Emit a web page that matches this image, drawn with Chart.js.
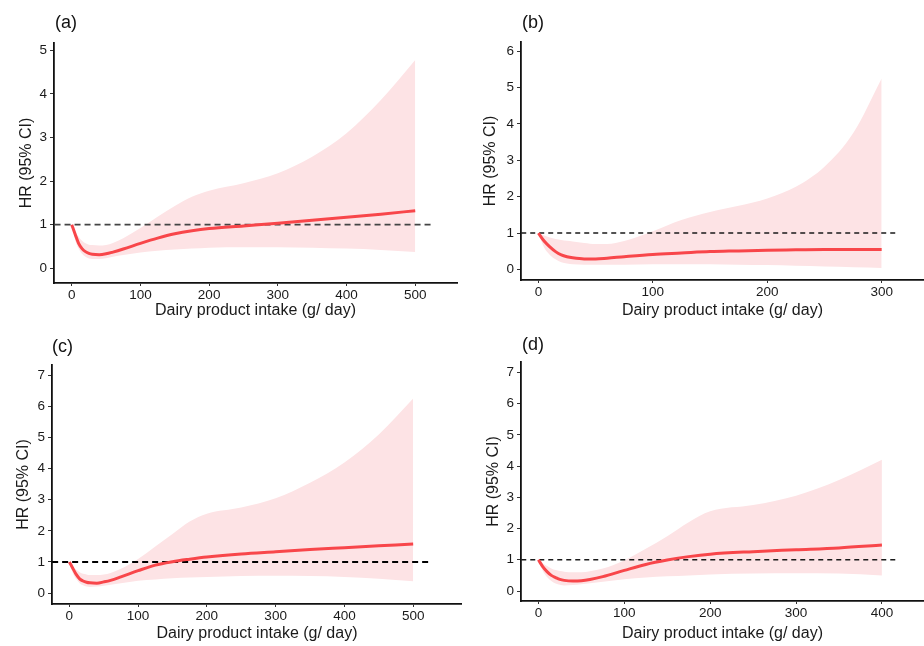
<!DOCTYPE html>
<html>
<head>
<meta charset="utf-8">
<script src="https://cdn.jsdelivr.net/npm/chart.js@4.4.1/dist/chart.umd.min.js"></script>
<style>
  body { margin: 0; background: #fff; }
  #wrap { position: relative; width: 924px; height: 646px; overflow: hidden; }
  .panel { position: absolute; width: 462px; height: 323px; }
  .tag { position: absolute; font-family: 'Liberation Sans', Arial, sans-serif; font-size: 18px; color: #111; line-height: 18px; }
</style>
</head>
<body>
<div id="wrap">
  <div class="panel" style="left:0;top:0"><canvas id="chartA" width="462" height="323"></canvas></div>
  <div class="panel" style="left:462px;top:0"><canvas id="chartB" width="462" height="323"></canvas></div>
  <div class="panel" style="left:0;top:323px"><canvas id="chartC" width="462" height="323"></canvas></div>
  <div class="panel" style="left:462px;top:323px"><canvas id="chartD" width="462" height="323"></canvas></div>
  <div class="tag" style="left:55px;top:13px">(a)</div>
  <div class="tag" style="left:522px;top:13px">(b)</div>
  <div class="tag" style="left:52px;top:337px">(c)</div>
  <div class="tag" style="left:522px;top:335px">(d)</div>
</div>
<script>
// ---- datos ----
// (a)
const xA = [0, 5, 10, 15, 20, 25, 30, 40, 50, 60, 75, 100, 125, 150, 175, 200, 250, 300, 350, 400, 450, 500];
const hrA = [1.0, 0.78, 0.57, 0.45, 0.38, 0.34, 0.32, 0.31, 0.33, 0.37, 0.44, 0.57, 0.69, 0.79, 0.86, 0.91, 0.97, 1.03, 1.10, 1.17, 1.24, 1.32];
const upA = [1.0, 0.85, 0.72, 0.63, 0.57, 0.54, 0.53, 0.52, 0.53, 0.58, 0.69, 0.92, 1.18, 1.43, 1.64, 1.78, 1.95, 2.18, 2.56, 3.10, 3.86, 4.78];
const loA = [1.0, 0.65, 0.45, 0.33, 0.26, 0.22, 0.21, 0.21, 0.23, 0.26, 0.30, 0.36, 0.40, 0.43, 0.45, 0.47, 0.48, 0.48, 0.47, 0.45, 0.42, 0.37];
const xTicksA = [0, 100, 200, 300, 400, 500];
const yTicksA = [0, 1, 2, 3, 4, 5];

// (b)
const xB = [0, 5, 10, 15, 20, 25, 30, 40, 50, 60, 75, 100, 125, 150, 175, 200, 225, 250, 275, 300];
const hrB = [1.0, 0.78, 0.62, 0.49, 0.40, 0.35, 0.32, 0.29, 0.29, 0.31, 0.35, 0.41, 0.45, 0.49, 0.51, 0.53, 0.54, 0.55, 0.55, 0.55];
const upB = [1.0, 0.93, 0.88, 0.84, 0.81, 0.79, 0.77, 0.73, 0.70, 0.70, 0.78, 1.05, 1.36, 1.58, 1.75, 1.95, 2.27, 2.82, 3.74, 5.25];
const loB = [1.0, 0.60, 0.40, 0.28, 0.20, 0.16, 0.14, 0.13, 0.13, 0.13, 0.13, 0.14, 0.14, 0.14, 0.13, 0.12, 0.10, 0.08, 0.06, 0.04];
const xTicksB = [0, 100, 200, 300];
const yTicksB = [0, 1, 2, 3, 4, 5, 6];

// (c)
const xC = [0, 5, 10, 15, 20, 25, 30, 40, 50, 60, 75, 100, 125, 150, 175, 200, 250, 300, 350, 400, 450, 500];
const hrC = [1.0, 0.80, 0.60, 0.46, 0.39, 0.35, 0.33, 0.32, 0.36, 0.41, 0.52, 0.72, 0.90, 1.01, 1.09, 1.16, 1.26, 1.33, 1.40, 1.46, 1.52, 1.58];
const upC = [1.0, 0.85, 0.75, 0.67, 0.62, 0.60, 0.58, 0.58, 0.60, 0.65, 0.78, 1.10, 1.50, 1.90, 2.30, 2.55, 2.75, 3.05, 3.55, 4.20, 5.10, 6.25];
const loC = [1.0, 0.65, 0.45, 0.32, 0.25, 0.21, 0.20, 0.21, 0.24, 0.27, 0.32, 0.40, 0.44, 0.48, 0.50, 0.52, 0.55, 0.56, 0.55, 0.52, 0.46, 0.38];
const xTicksC = [0, 100, 200, 300, 400, 500];
const yTicksC = [0, 1, 2, 3, 4, 5, 6, 7];

// (d)
const xD = [0, 5, 10, 15, 20, 25, 30, 40, 50, 60, 75, 100, 125, 150, 175, 200, 250, 300, 350, 400];
const hrD = [1.0, 0.78, 0.62, 0.50, 0.43, 0.37, 0.34, 0.32, 0.33, 0.37, 0.46, 0.66, 0.85, 0.99, 1.10, 1.18, 1.26, 1.32, 1.38, 1.47];
const upD = [1.0, 0.88, 0.80, 0.72, 0.67, 0.64, 0.62, 0.60, 0.60, 0.63, 0.72, 0.98, 1.35, 1.75, 2.20, 2.55, 2.75, 3.05, 3.55, 4.20];
const loD = [1.0, 0.65, 0.45, 0.32, 0.24, 0.20, 0.18, 0.19, 0.22, 0.25, 0.30, 0.38, 0.43, 0.47, 0.50, 0.53, 0.56, 0.57, 0.56, 0.50];
const xTicksD = [0, 100, 200, 300, 400];
const yTicksD = [0, 1, 2, 3, 4, 5, 6, 7];

const xTitle = 'Dairy product intake (g/ day)';
const yTitle = 'HR (95% CI)';

Chart.defaults.font.family = "'Liberation Sans', Arial, sans-serif";
Chart.defaults.color = '#1a1a1a';

const pts = (xs, ys) => xs.map((x, i) => ({ x: x, y: ys[i] }));

function spline(id, cfg) {
    const ctx = document.getElementById(id);
    new Chart(ctx, {
        type: 'line',
        data: {
            datasets: [{
                data: pts(cfg.x, cfg.hr),
                borderColor: '#F8464A',
                borderWidth: 3,
                pointRadius: 0,
                cubicInterpolationMode: 'monotone',
                fill: false
            }, {
                data: [{ x: cfg.ref[0], y: 1 }, { x: cfg.ref[1], y: 1 }],
                borderColor: cfg.refColor,
                borderWidth: cfg.refWidth,
                borderDash: cfg.refDash,
                pointRadius: 0,
                fill: false
            }, {
                data: pts(cfg.x, cfg.up),
                borderWidth: 0,
                borderColor: 'rgba(0,0,0,0)',
                backgroundColor: '#FDE3E5',
                pointRadius: 0,
                cubicInterpolationMode: 'monotone',
                fill: '+1'
            }, {
                data: pts(cfg.x, cfg.lo),
                borderWidth: 0,
                borderColor: 'rgba(0,0,0,0)',
                pointRadius: 0,
                cubicInterpolationMode: 'monotone',
                fill: false
            }]
        },
        options: {
            responsive: false,
            animation: false,
            layout: { padding: { left: 0, top: cfg.top, right: cfg.right, bottom: 0 } },
            plugins: { legend: { display: false }, tooltip: { enabled: false } },
            scales: {
                x: {
                    type: 'linear',
                    min: cfg.xr[0],
                    max: cfg.xr[1],
                    afterBuildTicks: s => { s.ticks = cfg.xTicks.map(v => ({ value: v })); },
                    afterFit: s => { s.height = cfg.xh; },
                    grid: { drawOnChartArea: false, drawTicks: true, tickLength: 3, color: '#333' },
                    border: { display: true, color: '#111', width: 1.8 },
                    ticks: { font: { size: 13.5 }, padding: 1, maxRotation: 0 },
                    title: { display: true, text: xTitle, font: { size: 16 }, padding: { top: 0, bottom: 3 } }
                },
                y: {
                    type: 'linear',
                    min: cfg.yr[0],
                    max: cfg.yr[1],
                    afterBuildTicks: s => { s.ticks = cfg.yTicks.map(v => ({ value: v })); },
                    afterFit: s => { s.width = cfg.yw; },
                    grid: { drawOnChartArea: false, drawTicks: true, tickLength: 4, color: '#333' },
                    border: { display: true, color: '#111', width: 1.8 },
                    ticks: { font: { size: 13.5 }, padding: 3 },
                    title: { display: true, text: yTitle, font: { size: 16 }, padding: { top: cfg.yt, bottom: 0 } }
                }
            }
        }
    });
}

spline('chartA', { x: xA, hr: hrA, up: upA, lo: loA, xTicks: xTicksA, yTicks: yTicksA,
    xr: [-25.8, 560.8], yr: [-0.34, 5.17], ref: [-25, 525], refColor: '#444', refWidth: 1.6, refDash: [6, 4],
    top: 43, right: 5, yw: 54, xh: 40, yt: 17 });
spline('chartB', { x: xB, hr: hrB, up: upB, lo: loB, xTicks: xTicksB, yTicks: yTicksB,
    xr: [-15.2, 337], yr: [-0.29, 6.25], ref: [-15, 315], refColor: '#1a1a1a', refWidth: 1.4, refDash: [5, 4],
    top: 42, right: 0, yw: 59, xh: 43, yt: 19 });
spline('chartC', { x: xC, hr: hrC, up: upC, lo: loC, xTicks: xTicksC, yTicks: yTicksC,
    xr: [-25.2, 571], yr: [-0.35, 7.33], ref: [-25, 525], refColor: '#000', refWidth: 2.2, refDash: [6, 4],
    top: 42, right: 0, yw: 52, xh: 42, yt: 14 });
spline('chartD', { x: xD, hr: hrD, up: upD, lo: loD, xTicks: xTicksD, yTicks: yTicksD,
    xr: [-20.3, 449], yr: [-0.32, 7.33], ref: [-20, 420], refColor: '#1a1a1a', refWidth: 1.4, refDash: [5, 4],
    top: 39, right: 0, yw: 59, xh: 45, yt: 22 });
</script>
</body>
</html>
